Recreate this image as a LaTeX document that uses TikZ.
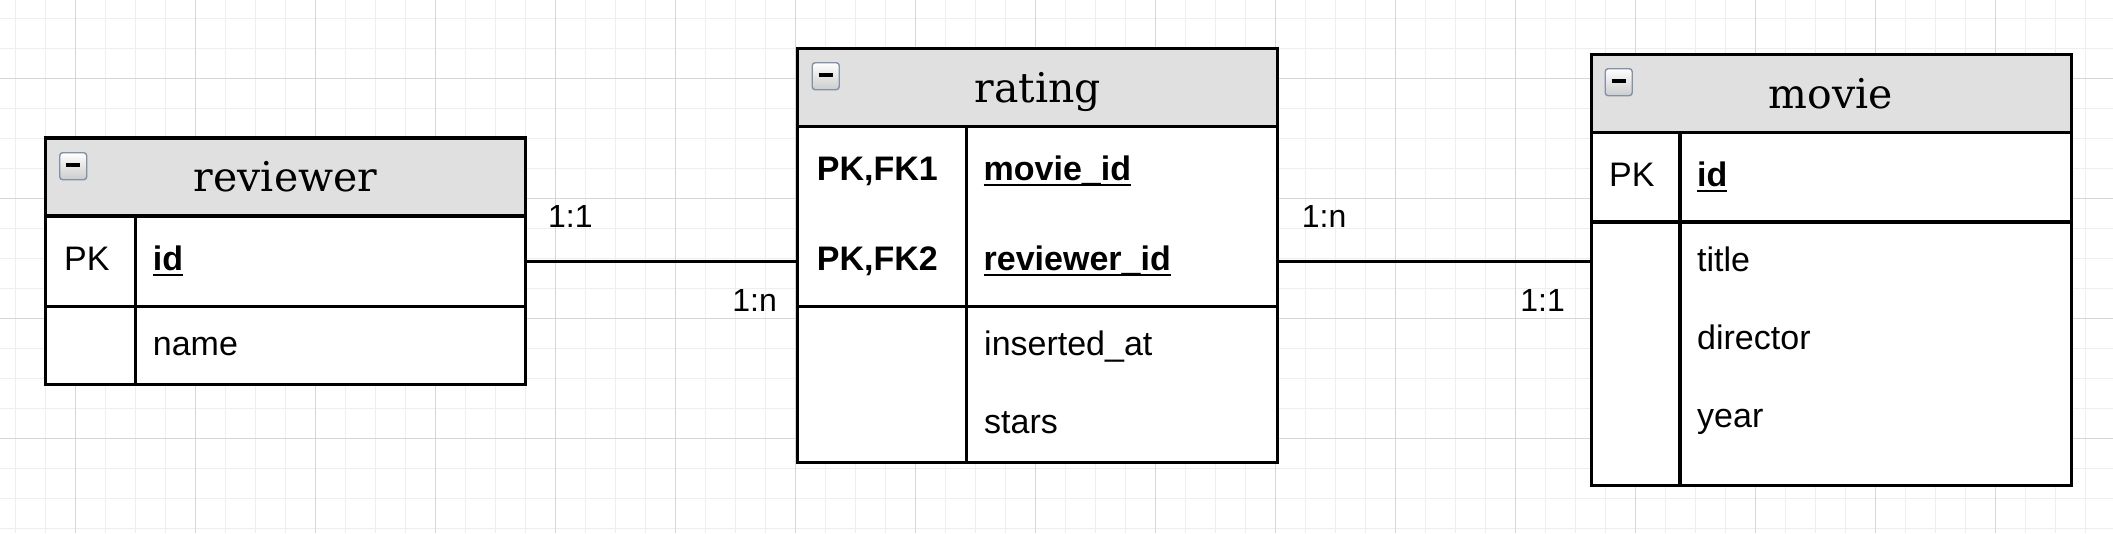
\documentclass[tikz,border=0pt]{standalone}
\usepackage{fontspec}
\setmainfont{Liberation Sans}
\newfontfamily\ttlfont{DejaVu Serif}
\usetikzlibrary{fit}
\definecolor{gridminor}{RGB}{238,238,238}
\definecolor{gridmajor}{RGB}{214,214,214}
\definecolor{hdrfill}{RGB}{224,224,224}
\definecolor{iconedge}{RGB}{130,145,165}
\newcommand\ulfield[1]{\setbox0\hbox{#1}\rlap{\rule[-6pt]{\wd0}{2pt}}\box0}
\tikzset{
  hdr/.style={draw=black, line width=3.3pt, fill=hdrfill, minimum width=480pt, minimum height=78pt, inner sep=0pt, outer sep=0pt, anchor=north west},
  sect/.style={draw=black, line width=3.3pt, fill=white, minimum width=480pt, inner sep=0pt, outer sep=0pt, anchor=north west},
  ttl/.style={font=\ttlfont\fontsize{41}{48}\selectfont, anchor=base, inner sep=0pt},
  fld/.style={font=\fontsize{34}{40}\selectfont, anchor=base west, inner sep=0pt},
  keyfld/.style={font=\fontsize{34}{40}\selectfont\bfseries, anchor=base west, inner sep=0pt},
  card/.style={font=\fontsize{32}{38}\selectfont, inner sep=0pt},
  collapse/.style={draw=iconedge, line width=1.4pt, rounded corners=3pt, top color=white, bottom color=gray!40, minimum size=27pt, inner sep=0pt, anchor=north west},
  minusbar/.style={draw=black, line width=4pt},
  conn/.style={draw=black, line width=3.3pt},
  divider/.style={draw=black, line width=3.3pt},
  gminor/.style={draw=gridminor, line width=1pt},
  gmajor/.style={draw=gridmajor, line width=1pt}
}
\begin{document}
\begin{tikzpicture}[x=1pt, y=-1pt]
\useasboundingbox (0,0) rectangle (2113,533);
\fill[white] (0,0) rectangle (2113,533);
% grid
\foreach \x in {15,45,...,2113} \draw[gminor] (\x,0) -- (\x,533);
\foreach \y in {18,48,...,533} \draw[gminor] (0,\y) -- (2113,\y);
\foreach \x in {75,195,...,2113} \draw[gmajor] (\x,0) -- (\x,533);
\foreach \y in {78,198,...,533} \draw[gmajor] (0,\y) -- (2113,\y);

% ---------- reviewer ----------
\node[hdr] (revh) at (45.7,138) {};
\node[sect, minimum height=90.5pt] (revk) at (revh.south west) {};
\node[sect, minimum height=78pt] (revf) at (revk.south west) {};
\draw[divider] ([xshift=90pt]revk.north west) -- ([xshift=90pt]revf.south west);
\node[fit=(revh)(revf), inner sep=0pt, outer sep=0pt] (rev) {};
\node[collapse] (revicon) at (59,152) {};
\draw[minusbar] ([xshift=7pt,yshift=1.5pt]revicon.west) -- ([xshift=-7pt,yshift=1.5pt]revicon.east);
\node[ttl] (revt) at (285.6,191.5) {reviewer};
\node[fld] (revpk) at (64,270) {PK};
\node[keyfld] (revid) at (152.7,270) {\ulfield{id}};
\node[fld] (revname) at (152.7,355) {name};

% ---------- rating ----------
\node[hdr] (rath) at (797.8,48.3) {};
\node[sect, minimum height=180.2pt] (ratk) at (rath.south west) {};
\node[sect, minimum height=156pt] (ratf) at (ratk.south west) {};
\draw[divider] ([xshift=168.7pt]ratk.north west) -- ([xshift=168.7pt]ratf.south west);
\node[fit=(rath)(ratf), inner sep=0pt, outer sep=0pt] (rat) {};
\node[collapse] (raticon) at (811.5,62) {};
\draw[minusbar] ([xshift=7pt,yshift=1.5pt]raticon.west) -- ([xshift=-7pt,yshift=1.5pt]raticon.east);
\node[ttl] (ratt) at (1038,102.3) {rating};
\node[keyfld] (ratpk1) at (816.7,180) {PK,FK1};
\node[keyfld] (ratmid) at (983.5,180) {\ulfield{movie\_id}};
\node[keyfld] (ratpk2) at (816.7,270) {PK,FK2};
\node[keyfld] (ratrid) at (983.5,270) {\ulfield{reviewer\_id}};
\node[fld] (ratins) at (984,355) {inserted\_at};
\node[fld] (ratstars) at (984,433) {stars};

% ---------- movie ----------
\node[hdr] (movh) at (1591.5,54.4) {};
\node[sect, minimum height=89.6pt] (movk) at (movh.south west) {};
\node[sect, minimum height=263.5pt] (movf) at (movk.south west) {};
\draw[divider] ([xshift=88.5pt]movk.north west) -- ([xshift=88.5pt]movf.south west);
\node[fit=(movh)(movf), inner sep=0pt, outer sep=0pt] (mov) {};
\node[collapse] (movicon) at (1604.5,68) {};
\draw[minusbar] ([xshift=7pt,yshift=1.5pt]movicon.west) -- ([xshift=-7pt,yshift=1.5pt]movicon.east);
\node[ttl] (movt) at (1830.5,108.3) {movie};
\node[fld] (movpk) at (1609,186) {PK};
\node[keyfld] (movid) at (1697,186) {\ulfield{id}};
\node[fld] (movtitle) at (1697,271) {title};
\node[fld] (movdir) at (1697,349.5) {director};
\node[fld] (movyear) at (1697,427) {year};

% ---------- connectors ----------
\draw[conn] (rev.east) -- (rev.east -| rat.west);
\draw[conn] (rev.east -| rat.east) -- (rev.east -| mov.west);
\node[card, anchor=base west] (c1) at (548,227.7) {1:1};
\node[card, anchor=base east] (c2) at (777,311.7) {1:n};
\node[card, anchor=base west] (c3) at (1301.7,227.7) {1:n};
\node[card, anchor=base east] (c4) at (1565,311.7) {1:1};
\end{tikzpicture}
\end{document}
